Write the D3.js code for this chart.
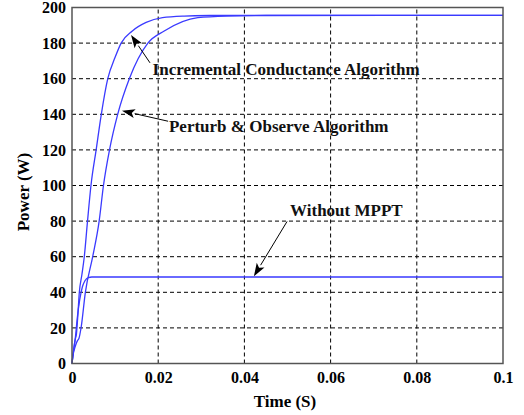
<!DOCTYPE html>
<html>
<head>
<meta charset="utf-8">
<script src="https://cdn.jsdelivr.net/npm/d3@7"></script>
<style>
  html, body { margin: 0; padding: 0; background: #fff; }
  svg { display: block; }
  text { font-family: "Liberation Serif", "Times New Roman", serif; font-weight: bold; }
</style>
</head>
<body>
<svg id="chart" width="524" height="415"></svg>
<script>
// ---- data ----
const xTicks = [0, 0.02, 0.04, 0.06, 0.08, 0.1];
const xTickLabels = ["0", "0.02", "0.04", "0.06", "0.08", "0.1"];
const yTicks = [0, 20, 40, 60, 80, 100, 120, 140, 160, 180, 200];
const yTickLabels = ["0", "20", "40", "60", "80", "100", "120", "140", "160", "180", "200"];

const incTime  = [0, 0.0004, 0.0008, 0.0010, 0.0013, 0.0017, 0.0023, 0.00285, 0.0036, 0.0044, 0.0056, 0.0068, 0.0083, 0.0100, 0.0114, 0.0140, 0.0172, 0.0210, 0.0260, 0.0320, 0.0400, 0.1];
const incPower = [0, 8, 14, 16, 25, 40, 50, 60, 80, 100, 120, 140, 160, 172, 180, 186.8, 191.6, 194.3, 195.2, 195.5, 195.6, 195.6];

const poTime  = [0, 0.0002, 0.0008, 0.0013, 0.0016, 0.0021, 0.0031, 0.0048, 0.0063, 0.0073, 0.0087, 0.0106, 0.0133, 0.0176, 0.0214, 0.0292, 0.0360, 0.0450, 0.1];
const poPower = [0, 4, 10, 13, 14, 20, 40, 60, 80, 100, 120, 140, 160, 180, 186.8, 194.3, 195.2, 195.5, 195.6];

const noTime  = [0, 0.0004, 0.0008, 0.0012, 0.0018, 0.0024, 0.0030, 0.0038, 0.0046, 0.1];
const noPower = [0, 8, 15, 25, 36, 43, 46.5, 48.3, 48.6, 48.6];

const annLabels = ["Incremental Conductance Algorithm", "Perturb & Observe Algorithm", "Without MPPT"];
const annTextT  = [0.0187, 0.0225, 0.0506];
const annTextP  = [161.8, 130.0, 82.6];
const annTailT  = [0.0181, 0.0223, 0.0499];
const annTailP  = [168.9, 136.1, 79.8];
const annTipT   = [0.0137, 0.0116, 0.0422];
const annTipP   = [184.6, 142.0, 49.0];

// ---- layout ----
const svg = d3.select("#chart");
const x = d3.scaleLinear().domain([0, 0.1]).range([72, 503]);
const y = d3.scaleLinear().domain([0, 200]).range([363.5, 7.5]);

// grid
const grid = svg.append("g");
grid.selectAll("line.gx").data(xTicks.slice(1, -1)).join("line")
  .attr("x1", d => x(d)).attr("x2", d => x(d))
  .attr("y1", y(0)).attr("y2", y(200))
  .attr("stroke", "#000").attr("stroke-width", 1).attr("stroke-dasharray", "4,3");
grid.selectAll("line.gy").data(yTicks.slice(1, -1)).join("line")
  .attr("y1", d => y(d)).attr("y2", d => y(d))
  .attr("x1", x(0)).attr("x2", x(0.1))
  .attr("stroke", "#000").attr("stroke-width", 1).attr("stroke-dasharray", "4,3");

// curves
const line = d3.line().x(d => x(d[0])).y(d => y(d[1])).curve(d3.curveMonotoneX);
const series = [
  d3.zip(noTime, noPower),
  d3.zip(poTime, poPower),
  d3.zip(incTime, incPower)
];
svg.append("g").selectAll("path").data(series).join("path")
  .attr("d", line).attr("fill", "none")
  .attr("stroke", "#3a3aff").attr("stroke-width", 1.3);

// frame
svg.append("rect").attr("x", x(0)).attr("y", y(200))
  .attr("width", x(0.1) - x(0)).attr("height", y(0) - y(200))
  .attr("fill", "none").attr("stroke", "#555").attr("stroke-width", 1.5);

// axes
const xAxis = d3.axisBottom(x).tickValues(xTicks).tickFormat((d, i) => xTickLabels[i]).tickSize(0).tickPadding(8);
const gx = svg.append("g").attr("transform", `translate(0,${y(0)})`).call(xAxis);
gx.select(".domain").remove();
gx.selectAll("text").attr("font-size", 16).attr("fill", "#000")
  .attr("font-family", "Liberation Serif").attr("font-weight", "bold");

const yAxis = d3.axisLeft(y).tickValues(yTicks).tickFormat((d, i) => yTickLabels[i]).tickSize(0).tickPadding(6);
const gy = svg.append("g").attr("transform", `translate(${x(0)},0)`).call(yAxis);
gy.select(".domain").remove();
gy.selectAll("text").attr("font-size", 16).attr("fill", "#000")
  .attr("font-family", "Liberation Serif").attr("font-weight", "bold");

// axis titles
svg.append("text").attr("x", 285).attr("y", 407).attr("text-anchor", "middle")
  .attr("font-size", 17).attr("fill", "#000").text("Time (S)");
svg.append("text").attr("transform", "translate(29,192) rotate(-90)").attr("text-anchor", "middle")
  .attr("font-size", 17).attr("fill", "#000").text("Power (W)");

// annotations
const ann = svg.append("g");
annLabels.forEach((lab, i) => {
  const x1 = x(annTailT[i]), y1 = y(annTailP[i]);
  const x2 = x(annTipT[i]), y2 = y(annTipP[i]);
  const ang = Math.atan2(y2 - y1, x2 - x1);
  const L = 13, W = 4.5;
  const bx = x2 - L * Math.cos(ang), by = y2 - L * Math.sin(ang);
  ann.append("line").attr("x1", x1).attr("y1", y1).attr("x2", bx).attr("y2", by)
    .attr("stroke", "#000").attr("stroke-width", 1);
  const px = -Math.sin(ang), py = Math.cos(ang);
  const nx = x2 - (L - 3) * Math.cos(ang), ny = y2 - (L - 3) * Math.sin(ang);
  ann.append("path")
    .attr("d", `M${x2},${y2} L${bx + W * px},${by + W * py} L${nx},${ny} L${bx - W * px},${by - W * py} Z`)
    .attr("fill", "#000");
  ann.append("text").attr("x", x(annTextT[i])).attr("y", y(annTextP[i]))
    .attr("font-size", 17).attr("fill", "#111").text(lab);
});
</script>
</body>
</html>
